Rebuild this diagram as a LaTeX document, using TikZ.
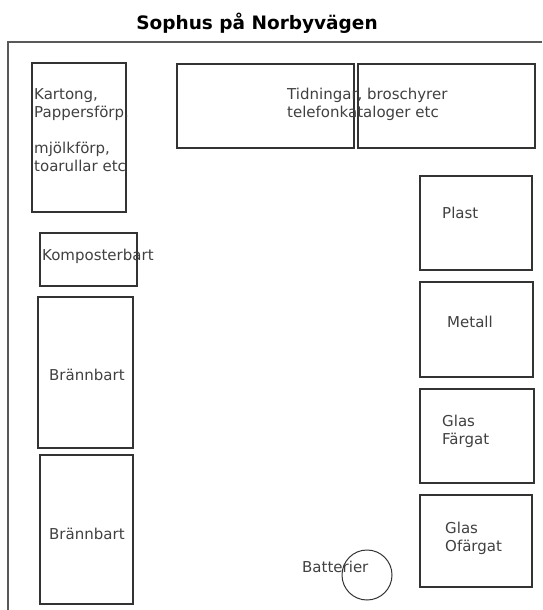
\documentclass[tikz,border=0pt]{standalone}
\usepackage{fontspec}
\setmainfont{DejaVu Sans}
\begin{document}
\begin{tikzpicture}[
		x=1pt, y=-1pt,
		bin/.style={
			draw=black!80,
			line width=1.3pt,
			inner sep=0pt
		},
		lbl/.style={
			anchor=west,
			align=left,
			inner sep=0pt,
			text=black!75,
			font=\fontsize{15}{18.5}\selectfont
		},
		frame/.style={draw=black!65, line width=1.4pt}
		]
		
		\useasboundingbox (0,0) rectangle (542,610);
		
		% Title
		\node[font=\fontsize{18.5}{22}\selectfont\bfseries, inner sep=0pt] (title) at (257,23) {Sophus på Norbyvägen};
		
		% Outer wall
		\draw[frame] (8,610) -- (8,42) -- (542,42);
		
		% Bins, left side
		\node[bin, minimum width=94pt, minimum height=149pt] (kart) at (79,137.5) {};
		\node[bin, minimum width=97pt, minimum height=53pt] (komp) at (88.5,259.5) {};
		\node[bin, minimum width=95pt, minimum height=151pt] (brann1) at (85.5,372.5) {};
		\node[bin, minimum width=93pt, minimum height=149pt] (brann2) at (86.5,529.5) {};
		
		% Bins, top
		\node[bin, minimum width=177pt, minimum height=84pt] (tidnA) at (265.5,106) {};
		\node[bin, minimum width=177pt, minimum height=84pt] (tidnB) at (446.5,106) {};
		
		% Bins, right side
		\node[bin, minimum width=112pt, minimum height=94pt] (plast) at (476,223) {};
		\node[bin, minimum width=113pt, minimum height=95pt] (metall) at (476.5,329.5) {};
		\node[bin, minimum width=114pt, minimum height=94pt] (glasF) at (477,436) {};
		\node[bin, minimum width=112pt, minimum height=92pt] (glasO) at (476,541) {};
		
		% Batteries
		\node[circle, draw=black!80, line width=1pt, minimum size=50pt, inner sep=0pt] (batt) at (367,575) {};
		
		% Labels
		\node[lbl] (kartL) at (34,130) {Kartong,\\Pappersförp.\\[17pt]mjölkförp,\\toarullar etc};
		\node[lbl] (kompL) at (42,256) {Komposterbart};
		\node[lbl] (brann1L) at (49,375) {Brännbart};
		\node[lbl] (brann2L) at (49,534) {Brännbart};
		\node[lbl] (tidnL) at (287,104.5) {Tidningar, broschyrer\\telefonkataloger etc};
		\node[lbl] (plastL) at (442,213) {Plast};
		\node[lbl] (metallL) at (447,322) {Metall};
		\node[lbl] (glasFL) at (442,431.5) {Glas\\Färgat};
		\node[lbl] (glasOL) at (445,538.5) {Glas\\Ofärgat};
		\node[lbl] (battL) at (302,567) {Batterier};
		
	\end{tikzpicture}
\end{document}
